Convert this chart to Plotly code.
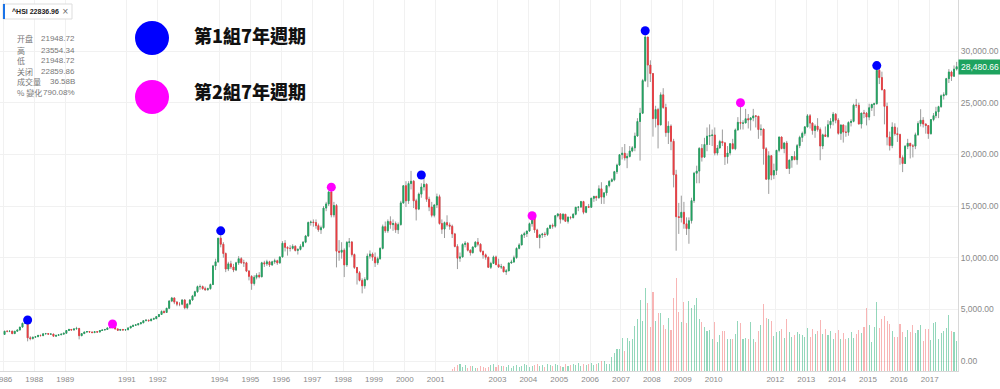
import plotly.graph_objects as go
import pandas as pd

# ---------------- data (monthly HSI, Jan 1987 .. Nov 2017) ----------------
opens = [
    2568, 2880, 2870, 2890, 2650, 2880, 3000, 3280, 3650, 3950, 2240, 2170,          # 1987
    2303, 2350, 2480, 2450, 2630, 2650, 2600, 2610, 2400, 2480, 2540, 2600,          # 1988
    2687, 2950, 3050, 3000, 3100, 3150, 2450, 2650, 2800, 2850, 2800, 2750,          # 1989
    2837, 2800, 2950, 3000, 3050, 3200, 3300, 3550, 3100, 2980, 3050, 3000,          # 1990
    3025, 3200, 3350, 3450, 3500, 3600, 3700, 3900, 3950, 3900, 4050, 4100,          # 1991
    4297, 4500, 4800, 4700, 5100, 5800, 6100, 5700, 5500, 5500, 5900, 5150,          # 1992
    5512, 5900, 6300, 6700, 7200, 7200, 7000, 6900, 7000, 7400, 9200, 9600,          # 1993
    11888, 11300, 10400, 8900, 9400, 9100, 8800, 9500, 9900, 9500, 9500, 8700,       # 1994
    8191, 7500, 8100, 8300, 8150, 9500, 9400, 9600, 9300, 9600, 9700, 9500,          # 1995
    10073, 11400, 11000, 10900, 10900, 11100, 10700, 10800, 11100, 11500, 12100, 13400,  # 1996
    13451, 13400, 13100, 12700, 12900, 14800, 15200, 16365, 14135, 15049, 10623, 10527,  # 1997
    10723, 9300, 11480, 11520, 10300, 9050, 8540, 7800, 7275, 7880, 10150, 10350,    # 1998
    10049, 9500, 9900, 10900, 13000, 12600, 13500, 13200, 13300, 12700, 13200, 15300,  # 1999
    16962, 15500, 17170, 17400, 15500, 14700, 16150, 16840, 17100, 15650, 14900, 14100,  # 2000
    15096, 15900, 13300, 12760, 13390, 13170, 13040, 12300, 11090, 9950, 10070, 11280,  # 2001
    11397, 10720, 10480, 11030, 11500, 11300, 10600, 10270, 10040, 9070, 9440, 10070,  # 2002
    9321, 9100, 9120, 8630, 8720, 9490, 9580, 10000, 10900, 11230, 12190, 12320,     # 2003
    12576, 13290, 13910, 12680, 11950, 12200, 12290, 12240, 12850, 13120, 13050, 14060,  # 2004
    14230, 13720, 14200, 13520, 13910, 13870, 14200, 14880, 14900, 15430, 14390, 14940,  # 2005
    14876, 15750, 15920, 15800, 16660, 15860, 16270, 16970, 17390, 17540, 18320, 18960,  # 2006
    19965, 20110, 19650, 19800, 20320, 20630, 21770, 23180, 23980, 27140, 31350, 28640,  # 2007
    27813, 23455, 24331, 22849, 25755, 24533, 22102, 22731, 21261, 18016, 13969, 13888,  # 2008
    14387, 13278, 12812, 13576, 15521, 18171, 18379, 20573, 19724, 20955, 21753, 21822,  # 2009
    21873, 20122, 20608, 21239, 21108, 19765, 20129, 21030, 20536, 22359, 23096, 23008,  # 2010
    23035, 23447, 23338, 23527, 23720, 23684, 22398, 22440, 20535, 17592, 19864, 17989,  # 2011
    18434, 20390, 21680, 20556, 21094, 18630, 19441, 19796, 19482, 20840, 21642, 22030,  # 2012
    22657, 23730, 23020, 22300, 22737, 22392, 20803, 21884, 21731, 22860, 23206, 23881,  # 2013
    23306, 22035, 22837, 22151, 22134, 23082, 23191, 24757, 24742, 22933, 23998, 23987,  # 2014
    23605, 24507, 24823, 24901, 28133, 27424, 26250, 24636, 21671, 20846, 22640, 21996,  # 2015
    21914, 19683, 19112, 20777, 21067, 20815, 20794, 21891, 22977, 23297, 22935, 22790,  # 2016
    22001, 23361, 23741, 24112, 24615, 25661, 25765, 27324, 27970, 27554, 28246,         # 2017
]
highs = [
    2920, 2950, 2960, 2920, 2900, 3050, 3300, 3700, 3960, 3968, 2400, 2350,
    2400, 2520, 2550, 2660, 2720, 2700, 2680, 2620, 2510, 2580, 2650, 2720,
    3000, 3120, 3100, 3150, 3310, 3200, 2700, 2850, 2900, 2900, 2850, 2880,
    2900, 2980, 3050, 3100, 3230, 3350, 3580, 3560, 3150, 3080, 3100, 3080,
    3250, 3400, 3500, 3560, 3650, 3750, 3950, 4050, 4000, 4100, 4200, 4320,
    4550, 4900, 4900, 5150, 5900, 6200, 6150, 5800, 5700, 6000, 6000, 5600,
    6000, 6400, 6800, 7300, 7400, 7300, 7200, 7100, 7500, 9300, 9900, 11900,
    12599, 11500, 10500, 9600, 9700, 9400, 9600, 10150, 10050, 9800, 9600, 8800,
    8300, 8300, 8500, 8600, 9600, 9700, 9800, 9700, 9700, 9900, 9800, 10100,
    11600, 11700, 11100, 11200, 11300, 11200, 10900, 11300, 11600, 12200, 13500, 13600,
    13700, 13700, 13300, 13100, 15000, 15400, 16400, 16820, 15400, 15200, 11700, 11500,
    10900, 11600, 11900, 11600, 10400, 9100, 8700, 8000, 8100, 10400, 10700, 10500,
    10500, 10100, 11000, 13200, 13500, 13700, 14000, 13700, 13500, 13400, 15500, 17000,
    17400, 17400, 18397, 17500, 15700, 16300, 17200, 17900, 17200, 15900, 15400, 15200,
    16200, 16100, 13700, 13500, 14100, 13400, 13200, 12400, 11300, 10500, 11400, 11600,
    11500, 10800, 11100, 11600, 11900, 11400, 10700, 10400, 10100, 9600, 10200, 10200,
    9900, 9400, 9200, 8900, 9500, 9800, 10200, 11000, 11400, 12300, 12500, 12600,
    13400, 14058, 13900, 12800, 12300, 12400, 12500, 12900, 13200, 13300, 14100, 14300,
    14300, 14300, 14200, 14000, 14000, 14300, 14900, 15000, 15500, 15500, 15000, 15200,
    15800, 16000, 16000, 17000, 17300, 16300, 17000, 17500, 17700, 18400, 19100, 20000,
    20700, 21000, 20100, 20800, 20800, 22100, 23500, 24500, 27300, 31958, 31300, 29100,
    27853, 24700, 24500, 26000, 26400, 24900, 23200, 22900, 21500, 18500, 15300, 16000,
    15400, 13900, 13900, 15800, 18300, 18900, 20700, 21000, 21600, 22600, 22900, 22400,
    22600, 20900, 21400, 22400, 21200, 20800, 21100, 21500, 22500, 23600, 24988, 23300,
    24400, 23900, 23600, 24400, 23800, 23700, 22900, 22500, 20700, 20300, 19900, 19100,
    20400, 21700, 21700, 21200, 21300, 19500, 19800, 20300, 21000, 21800, 22200, 22700,
    23900, 23900, 23100, 22900, 23500, 22600, 22000, 22700, 23300, 23500, 24100, 24000,
    23500, 22900, 22900, 22800, 23200, 23400, 24900, 25362, 25000, 24000, 24300, 24100,
    24900, 24900, 25000, 28588, 28500, 28000, 26300, 25000, 22200, 23100, 23000, 22600,
    22000, 19900, 20900, 21500, 21100, 21000, 22100, 23200, 24364, 23600, 23000, 22800,
    23400, 24000, 24600, 24700, 25800, 26000, 27400, 28250, 28100, 28600, 28950,
]
lows = [
    2540, 2780, 2790, 2600, 2620, 2850, 2960, 3240, 3600, 1900, 2000, 2080,
    2230, 2320, 2400, 2420, 2580, 2560, 2560, 2380, 2360, 2450, 2500, 2570,
    2650, 2900, 2950, 2940, 3050, 2094, 2400, 2620, 2750, 2750, 2700, 2700,
    2750, 2780, 2900, 2950, 3000, 3180, 3280, 3050, 2900, 2900, 2980, 2950,
    2980, 3150, 3300, 3400, 3450, 3550, 3650, 3850, 3800, 3850, 3980, 4050,
    4250, 4450, 4600, 4650, 5050, 5700, 5500, 5300, 5300, 5400, 5000, 5000,
    5400, 5800, 6200, 6600, 6900, 6900, 6800, 6800, 6900, 7350, 8800, 9500,
    11000, 10000, 8600, 8700, 8900, 8600, 8700, 9300, 9400, 9100, 8600, 7800,
    6890, 7300, 7900, 8000, 8100, 9100, 9200, 9100, 9200, 9400, 9300, 9400,
    10000, 10600, 10200, 10600, 10800, 10600, 10300, 10700, 11000, 11400, 12000, 13100,
    13000, 12800, 12500, 12300, 12800, 14500, 15000, 13900, 13900, 9059, 9700, 9900,
    8121, 9100, 11000, 10100, 8900, 7400, 7700, 6544, 7000, 7800, 9900, 9700,
    9100, 9300, 9800, 10800, 12400, 12400, 12800, 12600, 12400, 12300, 13100, 15200,
    14900, 15200, 16600, 14800, 13600, 14600, 15800, 16500, 15400, 14500, 13900, 13900,
    14800, 13200, 12300, 11900, 13000, 12700, 11900, 11000, 8894, 9600, 10000, 11000,
    10600, 10200, 10400, 11000, 11100, 10500, 9900, 9800, 9000, 8900, 9400, 9300,
    9000, 8900, 8600, 8330, 8700, 9400, 9500, 9900, 10800, 11200, 11900, 12000,
    12500, 13000, 12400, 11900, 10900, 11900, 12000, 12100, 12800, 12800, 12900, 13900,
    13300, 13600, 13500, 13300, 13700, 13800, 14100, 14500, 14800, 14200, 14300, 14800,
    14900, 15400, 15500, 15700, 15200, 15200, 16000, 16800, 17300, 17400, 18100, 18900,
    19500, 19400, 18660, 19700, 20200, 20300, 21700, 19386, 23900, 27000, 26500, 27000,
    21709, 22600, 20572, 22800, 24400, 21700, 21000, 20400, 16800, 10676, 12300, 13400,
    12800, 12200, 11345, 13300, 15300, 17200, 17200, 19300, 19700, 20300, 20900, 20800,
    19900, 19900, 20600, 20800, 18971, 19100, 19900, 20500, 20400, 22300, 22400, 22400,
    23000, 22500, 22300, 23200, 22600, 21500, 21800, 19000, 17600, 16170, 17500, 17600,
    18000, 20200, 20500, 20100, 18600, 18100, 18700, 19500, 19000, 20600, 21200, 21800,
    22600, 22500, 21900, 21600, 22200, 19426, 20500, 21700, 21600, 22500, 22800, 23000,
    21900, 21400, 21137, 21700, 21800, 22700, 23100, 24500, 22900, 22500, 23500, 22800,
    23300, 24200, 23700, 24800, 26800, 26200, 22900, 20865, 20368, 20600, 21800, 21200,
    19000, 18278, 19100, 20500, 19600, 19700, 20500, 21800, 22700, 22600, 22000, 21500,
    21900, 23200, 23500, 23500, 24500, 25300, 25700, 26900, 27100, 27500, 28100,
]
closes = [
    2880, 2870, 2890, 2650, 2880, 3000, 3280, 3650, 3950, 2240, 2170, 2303,
    2350, 2480, 2450, 2630, 2650, 2600, 2610, 2400, 2480, 2540, 2600, 2687,
    2950, 3050, 3000, 3100, 3150, 2450, 2650, 2800, 2850, 2800, 2750, 2837,
    2800, 2950, 3000, 3050, 3200, 3300, 3550, 3100, 2980, 3050, 3000, 3025,
    3200, 3350, 3450, 3500, 3600, 3700, 3900, 3950, 3900, 4050, 4100, 4297,
    4500, 4800, 4700, 5100, 5800, 6100, 5700, 5500, 5500, 5900, 5150, 5512,
    5900, 6300, 6700, 7200, 7200, 7000, 6900, 7000, 7400, 9200, 9600, 11888,
    11300, 10400, 8900, 9400, 9100, 8800, 9500, 9900, 9500, 9500, 8700, 8191,
    7500, 8100, 8300, 8150, 9500, 9400, 9600, 9300, 9600, 9700, 9500, 10073,
    11400, 11000, 10900, 10900, 11100, 10700, 10800, 11100, 11500, 12100, 13400, 13451,
    13400, 13100, 12700, 12900, 14800, 15200, 16365, 14135, 15049, 10623, 10527, 10723,
    9300, 11480, 11520, 10300, 9050, 8540, 7800, 7275, 7880, 10150, 10350, 10049,
    9500, 9900, 10900, 13000, 12600, 13500, 13200, 13300, 12700, 13200, 15300, 16962,
    15500, 17170, 17400, 15500, 14700, 16150, 16840, 17100, 15650, 14900, 14100, 15096,
    15900, 13300, 12760, 13390, 13170, 13040, 12300, 11090, 9950, 10070, 11280, 11397,
    10720, 10480, 11030, 11500, 11300, 10600, 10270, 10040, 9070, 9440, 10070, 9321,
    9100, 9120, 8630, 8720, 9490, 9580, 10000, 10900, 11230, 12190, 12320, 12576,
    13290, 13910, 12680, 11950, 12200, 12290, 12240, 12850, 13120, 13050, 14060, 14230,
    13720, 14200, 13520, 13910, 13870, 14200, 14880, 14900, 15430, 14390, 14940, 14876,
    15750, 15920, 15800, 16660, 15860, 16270, 16970, 17390, 17540, 18320, 18960, 19965,
    20110, 19650, 19800, 20320, 20630, 21770, 23180, 23980, 27140, 31350, 28640, 27813,
    23455, 24331, 22849, 25755, 24533, 22102, 22731, 21261, 18016, 13969, 13888, 14387,
    13278, 12812, 13576, 15521, 18171, 18379, 20573, 19724, 20955, 21753, 21822, 21873,
    20122, 20608, 21239, 21108, 19765, 20129, 21030, 20536, 22359, 23096, 23008, 23035,
    23447, 23338, 23527, 23720, 23684, 22398, 22440, 20535, 17592, 19864, 17989, 18434,
    20390, 21680, 20556, 21094, 18630, 19441, 19796, 19482, 20840, 21642, 22030, 22657,
    23730, 23020, 22300, 22737, 22392, 20803, 21884, 21731, 22860, 23206, 23881, 23306,
    22035, 22837, 22151, 22134, 23082, 23191, 24757, 24742, 22933, 23998, 23987, 23605,
    24507, 24823, 24901, 28133, 27424, 26250, 24636, 21671, 20846, 22640, 21996, 21914,
    19683, 19112, 20777, 21067, 20815, 20794, 21891, 22977, 23297, 22935, 22790, 22001,
    23361, 23741, 24112, 24615, 25661, 25765, 27324, 27970, 27554, 28246, 28480.66,
]
# monthly volume (B), Jul 2001 .. Nov 2017
volumes = [
    2, 4, 6, 7, 4, 6,                                   # 2001 (Jul-Dec)
    3, 5, 5, 3, 3, 5, 4, 3, 4, 6, 7, 4,                 # 2002
    6, 5, 5, 4, 6, 3, 5, 6, 4, 5, 7, 6,                 # 2003
    4, 5, 6, 7, 5, 6, 4, 7, 6, 5, 7, 6,                 # 2004
    5, 4, 7, 5, 6, 7, 6, 8, 5, 7, 6, 7,                 # 2005
    8, 6, 7, 8, 10, 10, 7, 7, 14, 18, 22, 22,           # 2006
    33, 20, 33, 30, 32, 45, 52, 71, 50, 83, 68, 44,     # 2007
    79, 50, 58, 58, 46, 42, 53, 41, 73, 93, 59, 49,     # 2008
    69, 48, 70, 63, 66, 73, 52, 49, 44, 40, 41, 32,     # 2009
    49, 29, 36, 40, 40, 32, 32, 32, 37, 50, 48, 32,     # 2010
    33, 32, 49, 32, 29, 40, 46, 67, 53, 52, 50, 35,     # 2011
    39, 40, 42, 33, 52, 39, 34, 36, 39, 37, 36, 34,     # 2012
    43, 34, 42, 37, 40, 51, 37, 42, 36, 40, 32, 38,     # 2013
    41, 32, 38, 32, 33, 39, 33, 37, 41, 38, 44, 63,     # 2014
    46, 29, 44, 69, 43, 52, 55, 50, 47, 40, 34, 34,     # 2015
    47, 39, 34, 41, 39, 46, 38, 41, 46, 30, 42, 42,     # 2016
    31, 48, 49, 32, 38, 40, 43, 56, 40, 39, 30,         # 2017
]
cycle1_dates = ["1987-10-15", "1994-01-15", "2000-07-15", "2007-10-15", "2015-04-15"]
cycle1_values = [3968, 12599, 18000, 31958, 28588]
cycle2_dates = ["1990-07-15", "1997-08-15", "2004-02-15", "2010-11-15"]
cycle2_values = [3580, 16820, 14058, 24988]

tick_dates = ["1987-01-01", "1988-01-01", "1989-01-01", "1991-01-01", "1992-01-01",
              "1994-01-01", "1995-01-01", "1996-01-01", "1997-01-01", "1998-01-01",
              "1999-01-01", "2000-01-01", "2001-01-01", "2003-01-01", "2004-01-01",
              "2005-01-01", "2006-01-01", "2007-01-01", "2008-01-01", "2009-01-01",
              "2010-01-01", "2012-01-01", "2013-01-01", "2014-01-01", "2015-01-01",
              "2016-01-01", "2017-01-01"]
tick_text = ["1986", "1988", "1989", "1991", "1992", "1994", "1995", "1996", "1997",
             "1998", "1999", "2000", "2001", "2003", "2004", "2005", "2006", "2007",
             "2008", "2009", "2010", "2012", "2013", "2014", "2015", "2016", "2017"]
price_ticks = [0, 5000, 10000, 15000, 20000, 25000, 30000]

info_labels = ["开盘", "高", "低", "关闭", "成交量", "% 變化"]
info_values = ["21948.72", "23554.34", "21948.72", "22859.86", "36.58B", "790.08%"]
legend_labels = ["第1組7年週期", "第2組7年週期"]

# ---------------- styling ----------------
GREEN = "#1ea35f"
RED = "#ee3a3f"
WICK = "#9c9c9c"
VOL_UP = "rgba(40,175,120,0.5)"
VOL_DN = "rgba(240,90,90,0.45)"

dates = pd.date_range("1987-01-01", periods=len(closes), freq="MS") + pd.Timedelta(days=14)
vol_dates = dates[len(dates) - len(volumes):]
up = [c >= o for o, c in zip(opens, closes)]
vol_colors = [VOL_UP if u else VOL_DN for u in up[len(up) - len(volumes):]]
body_hi = [max(o, c) for o, c in zip(opens, closes)]
body_lo = [min(o, c) for o, c in zip(opens, closes)]

PW, PH = 958, 371


def px(x):
    return x / PW


def py(y):
    return 1 - y / PH


fig = go.Figure()

fig.add_trace(go.Bar(x=vol_dates, y=volumes, marker=dict(color=vol_colors, line=dict(width=0)),
                     width=1.1e9, yaxis="y2", hoverinfo="skip"))

fig.add_trace(go.Candlestick(
    x=dates, open=opens, high=highs, low=lows, close=closes,
    increasing=dict(line=dict(color=WICK, width=1), fillcolor=WICK),
    decreasing=dict(line=dict(color=WICK, width=1), fillcolor=WICK),
    whiskerwidth=0, hoverinfo="skip"))
fig.add_trace(go.Candlestick(
    x=dates, open=opens, high=body_hi, low=body_lo, close=closes,
    increasing=dict(line=dict(color=GREEN, width=0.8), fillcolor=GREEN),
    decreasing=dict(line=dict(color=RED, width=0.8), fillcolor=RED),
    whiskerwidth=0, hoverinfo="skip"))

fig.add_trace(go.Scatter(x=cycle1_dates, y=cycle1_values, mode="markers",
                         marker=dict(color="#0000ff", size=9, line=dict(width=0))))
fig.add_trace(go.Scatter(x=cycle2_dates, y=cycle2_values, mode="markers",
                         marker=dict(color="#ff00ff", size=9, line=dict(width=0))))

shapes = [
    dict(type="circle", xref="paper", yref="paper", x0=px(135), x1=px(169), y0=py(55), y1=py(21),
         fillcolor="#0000ff", line=dict(width=0)),
    dict(type="circle", xref="paper", yref="paper", x0=px(135), x1=px(169), y0=py(114), y1=py(80),
         fillcolor="#ff00ff", line=dict(width=0)),
    dict(type="rect", xref="paper", yref="paper", x0=px(3), x1=px(72), y0=py(19), y1=py(4),
         fillcolor="white", line=dict(color="#dddddd", width=1)),
    dict(type="line", xref="paper", yref="paper", x0=px(4), x1=px(4), y0=py(19), y1=py(4),
         line=dict(color="#1a73e8", width=2)),
]

annotations = [
    dict(xref="paper", yref="paper", x=px(192), y=py(35), xanchor="left", yanchor="middle",
         text=legend_labels[0], showarrow=False,
         font=dict(family="Noto Sans CJK TC, Noto Sans CJK SC", size=18, color="#111", weight=900)),
    dict(xref="paper", yref="paper", x=px(192), y=py(91), xanchor="left", yanchor="middle",
         text=legend_labels[1], showarrow=False,
         font=dict(family="Noto Sans CJK TC, Noto Sans CJK SC", size=18, color="#111", weight=900)),
    dict(xref="paper", yref="paper", x=px(10), y=py(11.5), xanchor="left", yanchor="middle",
         text="<b>^HSI 22836.96</b>", showarrow=False,
         font=dict(family="Liberation Sans, Arial", size=7, color="#222")),
    dict(xref="paper", yref="paper", x=px(65), y=py(11.5), xanchor="center", yanchor="middle",
         text="×", showarrow=False, font=dict(family="DejaVu Sans", size=8, color="#666")),
    dict(xref="paper", yref="y", x=1.0, y=closes[-1], xanchor="left", yanchor="middle",
         text="28,480.66", showarrow=False, bgcolor=GREEN, borderpad=2,
         font=dict(family="Liberation Sans, Arial", size=8.5, color="white")),
]
row_y = [39, 50, 60.5, 71, 81.5, 92]
for lab, val, yy in zip(info_labels, info_values, row_y):
    annotations.append(dict(xref="paper", yref="paper", x=px(15), y=py(yy), xanchor="left",
                            yanchor="middle", text=lab, showarrow=False,
                            font=dict(family="Noto Sans CJK SC", size=8, color="#777")))
    annotations.append(dict(xref="paper", yref="paper", x=px(77), y=py(yy), xanchor="right",
                            yanchor="middle", text=val, showarrow=False,
                            font=dict(family="Liberation Sans, Arial", size=8, color="#777")))

fig.update_layout(
    width=1000, height=389,
    margin=dict(l=0, r=42, t=0, b=18, autoexpand=False),
    paper_bgcolor="white", plot_bgcolor="white",
    showlegend=False, boxgap=0.45, bargap=0,
    hovermode=False,
    shapes=shapes, annotations=annotations,
    xaxis=dict(type="date", range=["1986-11-22", "2017-12-01"],
               tickvals=tick_dates, ticktext=tick_text,
               tickfont=dict(family="Liberation Sans, Arial", size=8, color="#8a8a8a"),
               ticklabeloverflow="allow",
               showgrid=True, gridcolor="#f1f1f1", gridwidth=1,
               showline=True, linecolor="#d8d8d8", linewidth=1,
               ticks="", zeroline=False, automargin=False,
               rangeslider=dict(visible=False)),
    yaxis=dict(side="right", range=[-968, 34935], tickvals=price_ticks, tickformat=",.2f",
               tickfont=dict(family="Liberation Sans, Arial", size=8.5, color="#8a8a8a"),
               showgrid=True, gridcolor="#f1f1f1", gridwidth=1,
               showline=True, linecolor="#d8d8d8", linewidth=1,
               ticks="", zeroline=False, automargin=False),
    yaxis2=dict(overlaying="y", range=[0, 371], visible=False, fixedrange=True),
)

fig.write_html("out.html", config={"displayModeBar": False, "staticPlot": True},
               post_script="document.body.style.margin='0';document.body.style.overflow='hidden';")
